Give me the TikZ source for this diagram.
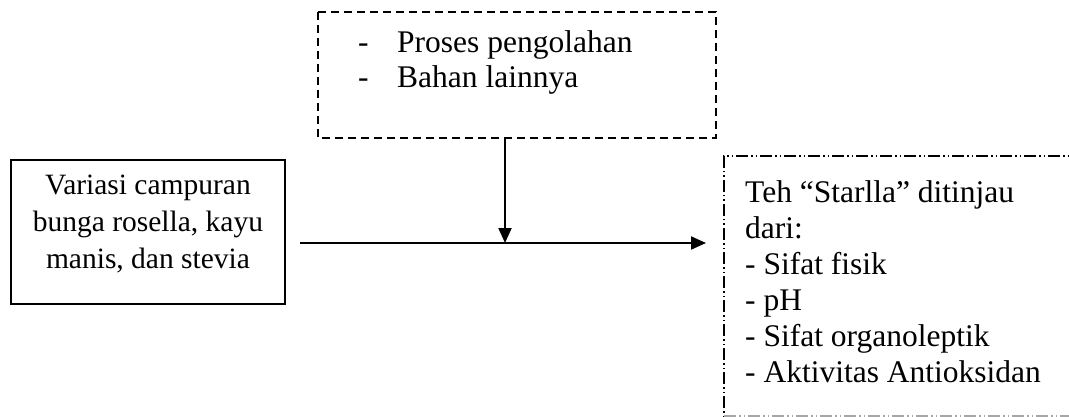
\documentclass[tikz,border=0pt]{standalone}
\usepackage{fontspec}
\setmainfont{Liberation Serif}
\usetikzlibrary{arrows.meta}
\begin{document}
\begin{tikzpicture}[x=1pt,y=-1pt,
  txt/.style={font=\fontsize{31.5}{36}\selectfont, inner sep=0pt},
  ltxt/.style={font=\fontsize{29.5}{37}\selectfont, inner sep=0pt},
  solidbox/.style={draw, line width=1.4pt},
  dashbox/.style={draw, line width=1.4pt, dash pattern=on 8pt off 5pt},
  dotbox/.style={draw, line width=1.2pt, dash pattern=on 12pt off 3pt on 1.5pt off 3pt on 1.5pt off 3pt},
  arr/.style={line width=2pt, -{Triangle[length=15pt,width=13pt]}}]
\useasboundingbox (0,0) rectangle (1069,417);
\begin{scope}
\clip (0,0) rectangle (1069,417);
% boxes
\draw[solidbox] (11,160) rectangle (285,304);
\node[minimum width=274pt, minimum height=144pt, inner sep=0pt] (left) at (148,232) {};
\node[ltxt, align=center, anchor=base] at (148,268) {Variasi campuran\\bunga rosella, kayu\\manis, dan stevia};
\draw[dashbox] (318,12) rectangle (716,138);
\node[minimum width=398pt, minimum height=126pt, inner sep=0pt] (top) at (517,75) {};
\node[txt, anchor=base west] at (358,53) {-};
\node[txt, anchor=base west] (p1) at (397,53) {Proses pengolahan};
\node[txt, anchor=base west] at (358,88) {-};
\node[txt, anchor=base west] (p2) at (397,88) {Bahan lainnya};
\draw[dotbox] (724,1200) -- (724,156) -- (1200,156);
\draw[dotbox, draw=black!35] (724,416) -- (1200,416);
\node[minimum width=360pt, minimum height=260pt, inner sep=0pt, anchor=north west] (right) at (724,156) {};
\node[txt, anchor=base west, align=left] at (745,382) {Teh “Starlla” ditinjau\\dari:\\- Sifat fisik\\- pH\\- Sifat organoleptik\\- Aktivitas Antioksidan};
\end{scope}
% connectors
\coordinate (hstart) at (left.east |- 0,243);
\coordinate (hend) at (right.west |- 0,243);
\draw[arr, shorten <=15pt, shorten >=18pt] (hstart) -- (hend);
\coordinate (join) at (505,243);
\draw[arr] (top.south -| join) -- (join);
\end{tikzpicture}
\end{document}
